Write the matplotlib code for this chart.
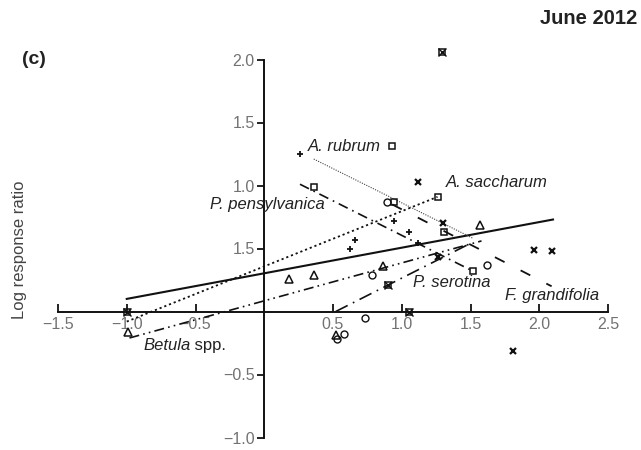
import numpy as np
import matplotlib
matplotlib.use("Agg")
import matplotlib.pyplot as plt

plt.rcParams['font.family'] = ['Liberation Sans', 'DejaVu Sans']

# --- points (x, y) ---
plus_x = [0.26, 0.94, 1.05, 0.66, 0.62, 1.12]
plus_y = [1.25, 0.72, 0.63, 0.57, 0.50, 0.54]

cross_x = [1.12, 1.30, 1.26, 1.96, 2.09, 1.81]
cross_y = [1.03, 0.70, 0.43, 0.49, 0.48, -0.31]

square_x = [0.93, 0.36, 0.94, 1.26, 1.31, 1.52]
square_y = [1.31, 0.985, 0.87, 0.91, 0.63, 0.32]

circle_x = [0.89, 0.78, 0.73, 0.53, 0.58, 1.62]
circle_y = [0.87, 0.29, -0.05, -0.22, -0.18, 0.37]

tri_x = [-0.99, 0.18, 0.36, 0.86, 0.52, 1.57]
tri_y = [-0.16, 0.26, 0.29, 0.36, -0.19, 0.69]

star_x = [-1.0, 0.90, 1.05, 1.29]
star_y = [0.0, 0.21, 0.0, 2.06]

# --- fitted lines: start / end points ---
line_x0 = [-1.0, -1.0, 0.36, 0.26, 0.93, -0.98, 0.52]
line_x1 = [2.10, 1.26, 1.52, 1.50, 2.09, 1.58, 1.48]
line_y0 = [0.10, -0.08, 1.21, 1.01, 0.85, -0.21, 0.0]
line_y1 = [0.73, 0.91, 0.58, 0.33, 0.20, 0.56, 0.53]
line_styles = ['-', (0, (1.2, 1.6)), (0, (1.0, 1.2)), (0, (6, 3, 1, 3)),
               (0, (6, 10)), (0, (6, 2.5, 1, 2.5, 1, 2.5)), (0, (8, 3.5, 1, 3.5))]
line_widths = [1.5, 1.3, 0.8, 1.2, 1.3, 1.2, 1.2]
line_colors = ['#111111', '#111111', '#444444', '#111111', '#111111', '#111111', '#111111']

xticks = [-1.5, -1.0, -0.5, 0.5, 1.0, 1.5, 2.0, 2.5]
xtick_labels = ['\u22121.5', '\u22121.0', '\u22120.5', '0.5', '1.0', '1.5', '2.0', '2.5']
yticks = [-1.0, -0.5, 0.5, 1.0, 1.5, 2.0]
ytick_labels = ['\u22121.0', '\u22120.5', '1.5', '1.0', '1.5', '2.0']

fig = plt.figure(figsize=(6.41, 4.50), dpi=100)
ax = fig.add_axes([58 / 641, 12.5 / 450, 550 / 641, 378 / 450])
ax.set_xlim(-1.5, 2.5)
ax.set_ylim(-1.0, 2.0)

for x0, x1, y0, y1, ls, lw, c in zip(line_x0, line_x1, line_y0, line_y1,
                                     line_styles, line_widths, line_colors):
    ax.plot([x0, x1], [y0, y1], linestyle=ls, lw=lw, color=c)

mk = dict(linestyle='none', color='#111111', mfc='none', clip_on=False)
ax.plot(plus_x, plus_y, marker='+', ms=5, mew=1.3, **mk)
ax.plot(cross_x, cross_y, marker='x', ms=4, mew=1.6, **mk)
ax.plot(square_x, square_y, marker='s', ms=4.5, mew=1.1, **mk)
ax.plot(circle_x, circle_y, marker='o', ms=5, mew=1.0, **mk)
ax.plot(tri_x, tri_y, marker='^', ms=6, mew=1.1, **mk)
ax.plot(star_x, star_y, marker='s', ms=4.5, mew=1.1, **mk)
ax.plot(star_x, star_y, marker='x', ms=6, mew=1.0, **mk)

# axes through the origin
for side in ['top', 'right']:
    ax.spines[side].set_visible(False)
ax.spines['left'].set_position(('data', 0))
ax.spines['bottom'].set_position(('data', 0))
ax.spines['left'].set_bounds(-1.0, 2.0)
ax.spines['bottom'].set_bounds(-1.5, 2.5)
for side in ['left', 'bottom']:
    ax.spines[side].set_linewidth(1.4)
    ax.spines[side].set_color('#111111')

ax.set_xticks(xticks)
ax.set_xticklabels(xtick_labels)
ax.set_yticks(yticks)
ax.set_yticklabels(ytick_labels)
ax.tick_params(axis='x', direction='in', length=6, width=1.3, colors='#111111',
               labelcolor='#727272', labelsize=11.5, pad=4)
ax.tick_params(axis='y', direction='out', length=5, width=1.3, colors='#111111',
               labelcolor='#727272', labelsize=11.5, pad=2)

# species labels
lab = dict(fontsize=12, style='italic', color='#222222', va='center')
ax.text(0.32, 1.31, 'A. rubrum', **lab)
ax.text(1.32, 1.02, 'A. saccharum', **lab)
ax.text(0.44, 0.85, 'P. pensylvanica', ha='right', **lab)
ax.text(1.08, 0.23, 'P. serotina', **lab)
ax.text(1.75, 0.13, 'F. grandifolia', **lab)
t = ax.text(-0.88, -0.27, 'Betula', **lab)
ax.annotate(' spp.', xy=(1, 0.5), xycoords=t, va='center', ha='left',
            fontsize=12, color='#222222')

fig.text(22 / 641, 1 - 60 / 450, '(c)', fontsize=14, fontweight='bold',
         va='center', color='#222222')
fig.text(637 / 641, 1 - 19 / 450, 'June 2012', fontsize=14.5, fontweight='bold',
         va='center', ha='right', color='#222222')
fig.text(20 / 641, 1 - 250 / 450, 'Log response ratio', rotation=90, fontsize=12,
         va='center', ha='center', color='#444444')

fig.savefig('out.png', dpi=100)
